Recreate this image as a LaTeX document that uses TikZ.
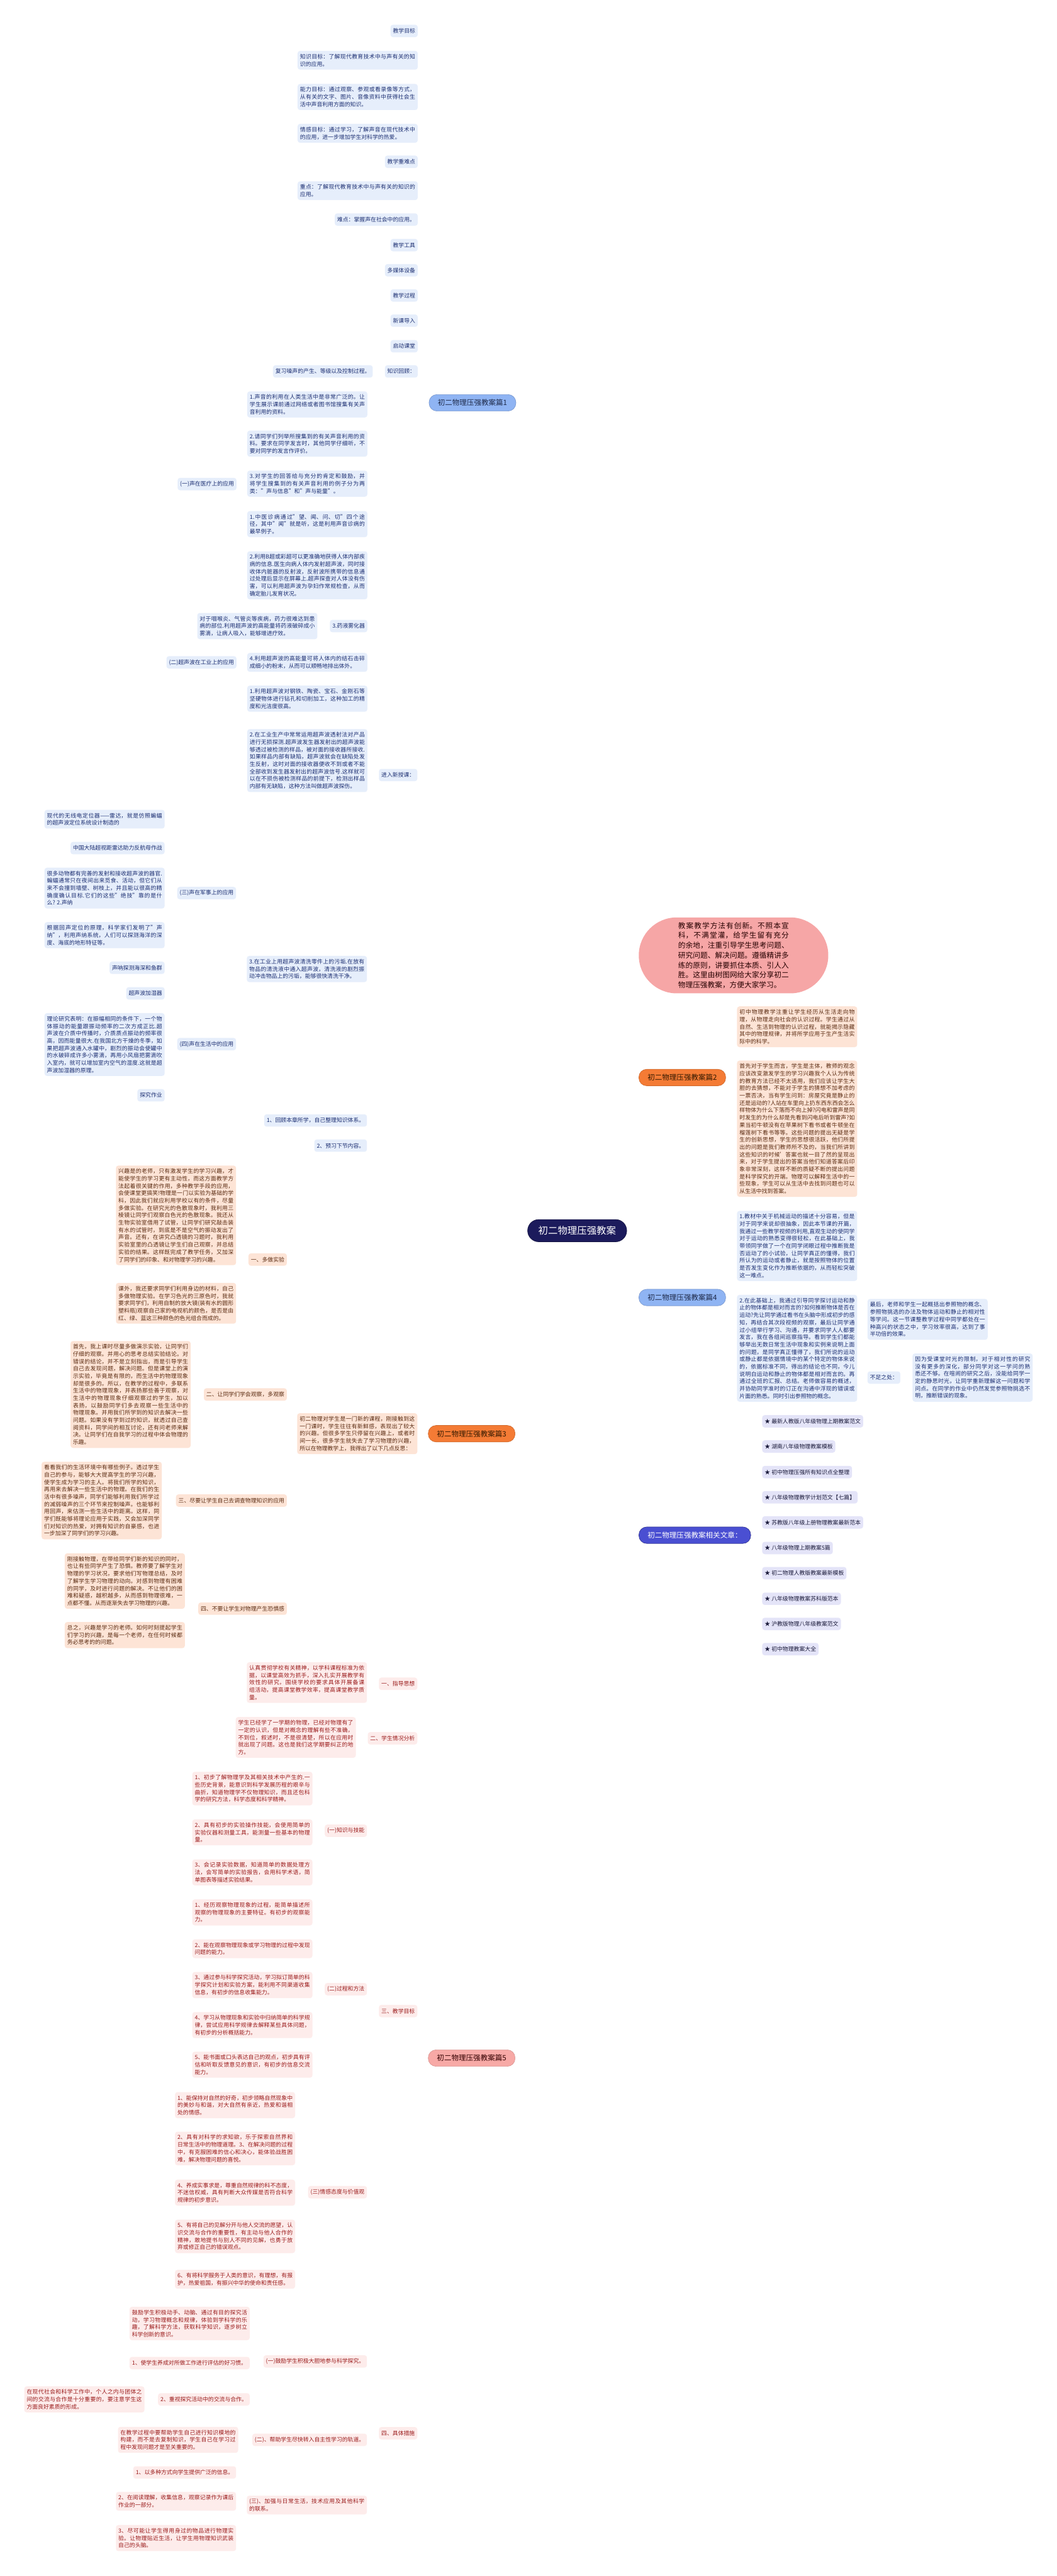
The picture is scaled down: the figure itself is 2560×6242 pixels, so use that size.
\documentclass[tikz,border=0pt]{standalone}
\usepackage{fontspec}
\setmainfont{Noto Sans CJK SC}
\XeTeXlinebreaklocale "zh"
\XeTeXlinebreakskip=0pt plus 1pt
\setlength{\parindent}{0pt}
\tolerance=9999
\emergencystretch=8pt
\definecolor{bleaf}{HTML}{E6EEFB}
\definecolor{btext}{HTML}{1C2F72}
\definecolor{bline}{HTML}{8DB3E8}
\definecolor{bnode}{HTML}{8FB4F3}
\definecolor{bnodetext}{HTML}{1E2A4A}
\definecolor{oleaf}{HTML}{FDE4D6}
\definecolor{otext}{HTML}{5B2C12}
\definecolor{oline}{HTML}{E9722E}
\definecolor{onode}{HTML}{F47B35}
\definecolor{pleaf}{HTML}{FDECEB}
\definecolor{ptext}{HTML}{9B1C1C}
\definecolor{pline}{HTML}{EEA5A1}
\definecolor{pnode}{HTML}{F7A9A6}
\definecolor{vleaf}{HTML}{E4E4F8}
\definecolor{vtext}{HTML}{1A1A3A}
\definecolor{vline}{HTML}{2C2D8A}
\definecolor{vnode}{HTML}{4A4FD2}
\definecolor{introfill}{HTML}{F6A6A6}
\definecolor{introline}{HTML}{F2A5A5}
\definecolor{centerfill}{HTML}{1C1B5C}
\newcommand\myleaf{\fontsize{13.5}{17.8}\selectfont}
\newcommand\mybr{\fontsize{17.6}{22}\selectfont}
\newcommand\myintro{\fontsize{17.8}{24}\selectfont}
\newcommand\mycen{\fontsize{23.5}{28}\selectfont}
\newcommand\myL[3]{\draw[#1] (#2.west) -- ++(-13,0) |- (#3.east);}
\newcommand\myR[3]{\draw[#1] (#2.east) -- ++(13,0) |- (#3.west);}
\pgfdeclarelayer{bg}
\pgfsetlayers{bg,main}
\tikzset{
  leaf/.style={rounded corners=6pt, inner xsep=6pt, inner ysep=7.5pt, minimum height=30pt, font=\myleaf},
  w/.style={text width=279pt, align=justify},
  lb/.style={leaf, fill=bleaf, text=btext},
  lo/.style={leaf, fill=oleaf, text=otext},
  lp/.style={leaf, fill=pleaf, text=ptext},
  lv/.style={leaf, fill=vleaf, text=vtext},
  br/.style={rounded corners=19pt, inner xsep=21pt, inner ysep=9pt, minimum height=40pt, font=\mybr, line width=1pt},
  cb/.style={draw=bline, line width=2pt, rounded corners=8pt},
  co/.style={draw=oline, line width=2pt, rounded corners=8pt},
  cp/.style={draw=pline, line width=2pt, rounded corners=8pt},
  cv/.style={draw=vline, line width=2pt, rounded corners=8pt},
  mline/.style={line width=2.4pt}
}
\begin{document}
\begin{tikzpicture}[x=1pt,y=-1pt]
\fill[white] (0,0) rectangle (2560,6242);
\useasboundingbox (0,0) rectangle (2560,6242);

% center
\node[fill=centerfill, draw=centerfill!70!black, line width=1pt, text=white, rounded corners=27pt, inner xsep=26pt, minimum height=54pt, font=\mycen] (main) at (1398,2982) {初二物理压强教案};

% intro
\node[fill=introfill, text=black!85!red, rounded corners=92pt, minimum width=459pt, minimum height=184pt, text width=268pt, align=justify, font=\myintro, anchor=west] (intro) at (1547,2315) {教案教学方法有创新。不照本宣科，不满堂灌，给学生留有充分的余地，注重引导学生思考问题、研究问题、解决问题。遵循精讲多练的原则，讲要抓住本质、引人入胜。这里由树图网给大家分享初二物理压强教案，方便大家学习。};

% branch nodes
\node[br, fill=bnode, draw=bnode!85!black, text=bnodetext, anchor=east] (b1) at (1250,976) {初二物理压强教案篇1};
\node[br, fill=onode, draw=onode!85!black, text=black!80!orange, anchor=west] (b2) at (1547,2611) {初二物理压强教案篇2};
\node[br, fill=onode, draw=onode!85!black, text=black!80!orange, anchor=east] (b3) at (1248,3474) {初二物理压强教案篇3};
\node[br, fill=bnode, draw=bnode!85!black, text=bnodetext, anchor=west] (b4) at (1547,3144) {初二物理压强教案篇4};
\node[br, fill=vnode, draw=vnode!70!black, text=white, anchor=west] (rel) at (1547,3720) {初二物理压强教案相关文章：};
\node[br, fill=pnode, draw=pnode!88!black, text=black!80!red, anchor=east] (b5) at (1248,4987) {初二物理压强教案篇5};

% ===== 篇1 =====
\node[lb, anchor=east] (a1) at (1012,75) {教学目标};
\node[lb, w, anchor=east] (a2) at (1012,146) {知识目标：了解现代教育技术中与声有关的知识的应用。};
\node[lb, w, anchor=east] (a3) at (1012,235) {能力目标：通过观察、参观或看录像等方式，从有关的文字、图片、音像资料中获得社会生活中声音利用方面的知识。};
\node[lb, w, anchor=east] (a4) at (1012,323) {情感目标：通过学习，了解声音在现代技术中的应用，进一步增加学生对科学的热爱。};
\node[lb, anchor=east] (a5) at (1012,392) {教学重难点};
\node[lb, w, anchor=east] (a6) at (1012,462) {重点：了解现代教育技术中与声有关的知识的应用。};
\node[lb, anchor=east] (a7) at (1012,532) {难点：掌握声在社会中的应用。};
\node[lb, anchor=east] (a8) at (1012,594) {教学工具};
\node[lb, anchor=east] (a9) at (1012,655) {多媒体设备};
\node[lb, anchor=east] (a10) at (1012,716) {教学过程};
\node[lb, anchor=east] (a11) at (1012,777) {新课导入};
\node[lb, anchor=east] (a12) at (1012,839) {启动课堂};
\node[lb, anchor=east] (a13) at (1012,900) {知识回顾：};
\node[lb, anchor=east] (a13a) at (903,900) {复习噪声的产生、等级以及控制过程。};
\node[lb, anchor=east] (a14) at (1011,1878) {进入新授课：};

\node[lb, w, anchor=east] (c1) at (890,980) {1.声音的利用在人类生活中是非常广泛的。让学生展示课前通过网络或者图书馆搜集有关声音利用的资料。};
\node[lb, w, anchor=east] (c2) at (890,1075) {2.请同学们列举所搜集到的有关声音利用的资料。要求在同学发言时，其他同学仔细听，不要对同学的发言作评价。};
\node[lb, w, anchor=east] (c3) at (890,1172) {3.对学生的回答给与充分的肯定和鼓励，并将学生搜集到的有关声音利用的例子分为两类："声与信息"和"声与能量"。};
\node[lb, anchor=east] (c3a) at (573,1173) {(一)声在医疗上的应用};
\node[lb, w, anchor=east] (c4) at (890,1270) {1.中医诊病通过"望、闻、问、切"四个途径，其中"闻"就是听，这是利用声音诊病的最早例子。};
\node[lb, w, anchor=east] (c5) at (890,1394) {2.利用B超或彩超可以更准确地获得人体内部疾病的信息.医生向病人体内发射超声波，同时接收体内脏器的反射波，反射波所携带的信息通过处理后显示在屏幕上.超声探查对人体没有伤害，可以利用超声波为孕妇作常规检查，从而确定胎儿发育状况。};
\node[lb, anchor=east] (c6) at (890,1517) {3.药液雾化器};
\node[lb, w, anchor=east] (c6a) at (769,1517) {对于咽喉炎、气管炎等疾病，药力很难达到患病的部位.利用超声波的高能量将药液破碎成小雾滴，让病人吸入，能够增进疗效。};
\node[lb, w, anchor=east] (c7) at (890,1605) {4.利用超声波的高能量可将人体内的结石击碎成细小的粉末，从而可以顺畅地排出体外。};
\node[lb, anchor=east] (c7a) at (573,1605) {(二)超声波在工业上的应用};
\node[lb, w, anchor=east] (c8) at (890,1693) {1.利用超声波对钢铁、陶瓷、宝石、金刚石等坚硬物体进行钻孔和切削加工，这种加工的精度和光洁度很高。};
\node[lb, w, anchor=east] (c9) at (890,1843) {2.在工业生产中常常运用超声波透射法对产品进行无损探测.超声波发生器发射出的超声波能够透过被检测的样品，被对面的接收器所接收.如果样品内部有缺陷，超声波就会在缺陷处发生反射，这时对面的接收器便收不到或者不能全部收到发生器发射出的超声波信号.这样就可以在不损伤被检测样品的前提下，检测出样品内部有无缺陷，这种方法叫做超声波探伤。};
\node[lb, w, anchor=east] (c10) at (889,2348) {3.在工业上用超声波清洗零件上的污垢.在放有物品的清洗液中通入超声波，清洗液的剧烈振动冲击物品上的污垢，能够很快清洗干净。};
\node[lb, anchor=east] (d1) at (572,2164) {(三)声在军事上的应用};
\node[lb, anchor=east] (d2) at (572,2530) {(四)声在生活中的应用};
\node[lb, w, anchor=east] (e1) at (399,1985) {现代的无线电定位器——雷达，就是仿照蝙蝠的超声波定位系统设计制造的};
\node[lb, anchor=east] (e2) at (399,2055) {中国大陆超视距雷达助力反航母作战};
\node[lb, w, anchor=east] (e3) at (399,2152) {很多动物都有完善的发射和接收超声波的器官.蝙蝠通常只在夜间出来觅食、活动，但它们从来不会撞到墙壁、树枝上，并且能以很高的精确度确认目标.它们的这些"绝技"靠的是什么? 2.声纳};
\node[lb, w, anchor=east] (e4) at (399,2266) {根据回声定位的原理，科学家们发明了"声纳"，利用声纳系统，人们可以探测海洋的深度、海底的地形特征等。};
\node[lb, anchor=east] (e5) at (399,2345) {声呐探测海深和鱼群};
\node[lb, anchor=east] (f1) at (399,2407) {超声波加湿器};
\node[lb, w, anchor=east] (f2) at (399,2531) {理论研究表明：在振幅相同的条件下，一个物体振动的能量跟振动频率的二次方成正比.超声波在介质中传播时，介质质点振动的频率很高，因而能量很大.在我国北方干燥的冬季，如果把超声波通入水罐中，剧烈的振动会使罐中的水破碎成许多小雾滴，再用小风扇把雾滴吹入室内，就可以增加室内空气的湿度.这就是超声波加湿器的原理。};
\node[lb, anchor=east] (f3) at (399,2654) {探究作业};
\node[lb, anchor=east] (c11) at (889,2715) {1、回顾本章所学，自己整理知识体系。};
\node[lb, anchor=east] (c12) at (889,2776) {2、预习下节内容。};

% ===== 篇2 =====
\node[lo, w, anchor=west] (g1) at (1785,2488) {初中物理教学注重让学生经历从生活走向物理，从物理走向社会的认识过程。学生通过从自然、生活到物理的认识过程，就能揭示隐藏其中的物理规律，并将所学应用于生产生活实际中的科学。};
\node[lo, w, anchor=west] (g2) at (1785,2735) {首先对于学生而言，学生是主体，教师的观念应该改变激发学生的学习兴趣我个人认为传统的教育方法已经不太适用，我们应该让学生大胆的去猜想，不能对于学生的猜想不加考虑的一票否决，当有学生问到：房屋究竟是静止的还是运动的?人站在车里向上扔东西东西会怎么样物体为什么下落而不向上掉?闪电和雷声是同时发生的为什么却是先看到闪电后听到雷声?如果当初牛顿没有在苹果树下看书或者牛顿坐在榴莲树下看书等等。这些问题的提出无疑是学生的创新思想，学生的思想很活跃，他们所提出的问题是我们教师所不及的，当我们所讲到这些知识的时候'答案也就一目了然的呈现出来，对于学生提出的答案当他们知道答案后印象非常深刻，这样不断的质疑不断的提出问题是科学探究的开端。物理可以解释生活中的一些现象，学生可以从生活中去找到问题也可以从生活中找到答案。};

% ===== 篇4 =====
\node[lb, w, anchor=west] (h1) at (1785,3019) {1.教材中关于机械运动的描述十分容易，但是对于同学来说却很抽象，因此本节课的开篇，我通过一些教学视频的利用,直观生动的使同学对于运动的熟悉变得很轻松，在此基础上，我带领同学做了一个在同学闭眼过程中推断我是否运动了的小试验，让同学真正的懂得，我们所认为的运动或者静止，就是按照物体的位置是否发生变化作为推断依据的，从而轻松突破这一难点。};
\node[lb, w, anchor=west] (h2) at (1785,3267) {2.在此基础上，我通过引导同学探讨运动和静止的物体都是相对而言的?如何推断物体是否在运动?先让同学通过看书在头脑中形成初步的感知，再结合其次段视频的观察，最后让同学通过小组举行学习、沟通，并要求同学人人都要发言，我在各组间巡察指导。看到学生们都能够举出无数日常生活中现象和实例来说明上面的问题，是同学真正懂得了，我们所说的运动或静止都是依据情境中的某个特定的物体来说的，依据标准不同，得出的结论也不同，今儿说明白运动和静止的物体都是相对而言的。再通过全班的汇报、总结。老师做容易的概述，并协助同学准时的订正在沟通中浮现的错误或片面的熟悉。同时引出参照物的概念。};
\node[lb, w, anchor=west] (h3) at (2101,3197) {最后，老师和学生一起概括出参照物的概念、参照物挑选的办法及物体运动和静止的相对性等学问。这一节课整教学过程中同学都处在一种高兴的状态之中，学习效率很高，达到了事半功倍的效果。};
\node[lb, anchor=west] (h4) at (2101,3338) {不足之处：};
\node[lb, w, anchor=west] (h5) at (2210,3338) {因为受课堂时光的限制，对于相对性的研究没有更多的深化，部分同学对这一学问的熟悉还不够。在喧闹的研究之后，没能给同学一定的静思时光，让同学重新理解这一问题和学问点。在同学的作业中仍然发觉参照物挑选不明，推断错误的现象。};

% ===== 相关文章 =====
\node[lv, anchor=west] (r1) at (1846,3444) {★ 最新人教版八年级物理上期教案范文};
\node[lv, anchor=west] (r2) at (1846,3505) {★ 湖南八年级物理教案模板};
\node[lv, anchor=west] (r3) at (1846,3567) {★ 初中物理压强所有知识点全整理};
\node[lv, anchor=west] (r4) at (1846,3628) {★ 八年级物理教学计划范文【七篇】};
\node[lv, anchor=west] (r5) at (1846,3689) {★ 苏教版八年级上册物理教案最新范本};
\node[lv, anchor=west] (r6) at (1846,3751) {★ 八年级物理上期教案5篇};
\node[lv, anchor=west] (r7) at (1846,3812) {★ 初二物理人教版教案最新模板};
\node[lv, anchor=west] (r8) at (1846,3874) {★ 八年级物理教案苏科版范本};
\node[lv, anchor=west] (r9) at (1846,3935) {★ 沪教版物理八年级教案范文};
\node[lv, anchor=west] (r10) at (1846,3996) {★ 初中物理教案大全};

% ===== 篇3 =====
\node[lo, w, anchor=east] (k0) at (1011,3474) {初二物理对学生是一门新的课程，刚接触到这一门课时，学生往往有新鲜感，表现出了较大的兴趣。但很多学生只停留在兴趣上，或者时间一长，很多学生就失去了学习物理的兴趣，所以在物理教学上，我得出了以下几点反思：};
\node[lo, anchor=east] (k1) at (695,3052) {一、多做实验};
\node[lo, w, anchor=east] (k1a) at (572,2945) {兴趣是的老师，只有激发学生的学习兴趣，才能使学生的学习更有主动性，而这方面教学方法起着很关键的作用，多种教学手段的应用，会使课堂更搞笑!物理是一门以实验为基础的学科，因此我们就应利用学校以有的条件，尽量多做实验。在研究光的色散现象时，我利用三棱镜让同学们观察白色光的色散现象。我还从生物实验室借用了试管，让同学们研究敲击装有水的试管时，到底是不是空气的振动发出了声音。还有，在讲究凸透镜的习题时，我利用实验室里的凸透镜让学生们自己观察，并总结实验的结果。这样既完成了教学任务，又加深了同学们的印象、和对物理学习的兴趣。};
\node[lo, w, anchor=east] (k1b) at (572,3158) {课外，我还要求同学们利用身边的材料，自己多做物理实验。在学习色光的三原色时，我就要求同学们，利用自制的放大镜(装有水的圆形塑料瓶)观察自己家的电视机的颜色，是否是由红、绿、蓝这三种颜色的色光组合而成的。};
\node[lo, anchor=east] (k2) at (695,3379) {二、让同学们学会观察，多观察};
\node[lo, w, anchor=east] (k2a) at (462,3379) {首先，我上课时尽量多做演示实验，让同学们仔细的观察。并用心的思考总结实验结论。对错误的结论，并不是立刻指出，而是引导学生自己去发现问题，解决问题。但是课堂上的演示实验，毕竟是有限的，而生活中的物理现象却是很多的。所以，在教学的过程中，多联系生活中的物理现象，并表扬那些善于观察，对生活中的物理现象仔细观察过的学生，加以表扬，以鼓励同学们多去观察一些生活中的物理现象。并用我们所学到的知识去解决一些问题。如果没有学到过的知识，就透过自己查阅资料，同学间的相互讨论，还有问老师来解决。让同学们在自我学习的过程中体会物理的乐趣。};
\node[lo, anchor=east] (k3) at (695,3636) {三、尽要让学生自己去调查物理知识的应用};
\node[lo, w, anchor=east] (k3a) at (392,3636) {看看我们的生活环境中有哪些例子。透过学生自己的参与，能够大大提高学生的学习兴趣，使学生成为学习的主人。将我们所学的知识，再用来去解决一些生活中的物理。在我们的生活中有很多噪声，同学们能够利用我们所学过的减弱噪声的三个环节来控制噪声。也能够利用回声，来估测一些生活中的距离。这样，同学们既能够将理论应用于实践，又会加深同学们对知识的热爱，对拥有知识的自豪感，也进一步加深了同学们的学习兴趣。};
\node[lo, anchor=east] (k4) at (695,3898) {四、不要让学生对物理产生恐惧感};
\node[lo, w, anchor=east] (k4a) at (448,3831) {刚接触物理，在带给同学们新的知识的同时，也让有些同学产生了恐惧。教师要了解学生对物理的学习状况，要求他们写物理总结，及时了解学生学习物理的动向。对感到物理有困难的同学，及时进行问题的解决。不让他们的困难和疑惑，越积越多，从而感到物理很难，一点都不懂。从而逐渐失去学习物理的兴趣。};
\node[lo, w, anchor=east] (k4b) at (448,3962) {总之，兴趣是学习的老师。如何时刻提起学生们学习的兴趣，是每一个老师，在任何时候都务必思考的的问题。};

% ===== 篇5 =====
\node[lp, anchor=east] (p1) at (1011,4080) {一、指导思想};
\node[lp, w, anchor=east] (p1a) at (889,4077) {认真贯彻学校有关精神，以学科课程标准为依据，以课堂高效为抓手，深入扎实开展教学有效性的研究，围绕学校的要求具体开展备课组活动，提高课堂教学效率，提高课堂教学质量。};
\node[lp, anchor=east] (p2) at (1011,4212) {二、学生情况分析};
\node[lp, w, anchor=east] (p2a) at (862,4210) {学生已经学了一学期的物理，已经对物理有了一定的认识，但是对概念的理解有些不准确，不到位，叙述时，不是很清楚，所以在应用时就出现了问题。这也是我们这学期要纠正的地方。};
\node[lp, anchor=east] (p3) at (1011,4873) {三、教学目标};
\node[lp, anchor=east] (q1) at (889,4436) {(一)知识与技能};
\node[lp, w, anchor=east] (q1a) at (757,4334) {1、初步了解物理学及其相关技术中产生的.一些历史背景，能意识到科学发展历程的艰辛与曲折，知道物理学不仅物理知识，而且还包科学的研究方法，科学态度和科学精神。};
\node[lp, w, anchor=east] (q1b) at (757,4440) {2、具有初步的实验操作技能，会使用简单的实验仪器和测量工具，能测量一些基本的物理量。};
\node[lp, w, anchor=east] (q1c) at (757,4537) {3、会记录实验数据，知道简单的数据处理方法，会写简单的实验报告，会用科学术语，简单图表等描述实验结果。};
\node[lp, anchor=east] (q2) at (889,4820) {(二)过程和方法};
\node[lp, w, anchor=east] (q2a) at (757,4634) {1、经历观察物理现象的过程，能简单描述所观察的物理现象的主要特征。有初步的观察能力。};
\node[lp, w, anchor=east] (q2b) at (757,4722) {2、能在观察物理现象或学习物理的过程中发现问题的能力。};
\node[lp, w, anchor=east] (q2c) at (757,4810) {3、通过参与科学探究活动，学习拟订简单的科学探究计划和实验方案，能利用不同渠道收集信息，有初步的信息收集能力。};
\node[lp, w, anchor=east] (q2d) at (757,4907) {4、学习从物理现象和实验中归纳简单的科学规律，尝试应用科学规律去解释某些具体问题，有初步的分析概括能力。};
\node[lp, w, anchor=east] (q2e) at (757,5003) {5、能书面或口头表达自己的观点，初步具有评估和听取反馈意见的意识，有初步的信息交流能力。};
\node[lp, anchor=east] (q3) at (889,5312) {(三)情感态度与价值观};
\node[lp, w, anchor=east] (q3a) at (715,5101) {1、能保持对自然的好奇，初步领略自然现象中的美妙与和谐，对大自然有亲近，热爱和谐相处的情感。};
\node[lp, w, anchor=east] (q3b) at (715,5206) {2、具有对科学的求知欲，乐于探索自然界和日常生活中的物理道理。3、在解决问题的过程中，有克服困难的信心和决心，能体验战胜困难，解决物理问题的喜悦。};
\node[lp, w, anchor=east] (q3c) at (715,5313) {4、养成实事求是，尊重自然规律的科不态度，不迷信权威，具有判断大众传媒是否符合科学规律的初步意识。};
\node[lp, w, anchor=east] (q3d) at (715,5419) {5、有将自己的见解分开与他人交流的愿望，认识交流与合作的重要性，有主动与他人合作的精神，敢地提书与别人不同的见解，也勇于放弃或修正自己的错误观点。};
\node[lp, w, anchor=east] (q3e) at (715,5523) {6、有将科学服务于人类的意识，有理想，有报护，热爱祖国，有振兴中华的使命和责任感。};
\node[lp, anchor=east] (p4) at (1011,5896) {四、具体措施};
\node[lp, anchor=east] (s1) at (889,5722) {(一)鼓励学生积极大胆地参与科学探究。};
\node[lp, w, anchor=east] (s1a) at (605,5630) {鼓励学生积极动手、动脑、通过有目的探究活动，学习物理概念和规律，体验到学科学的乐趣，了解科学方法，获取科学知识，逐步树立科学创新的意识。};
\node[lp, w, anchor=east] (s1b) at (605,5726) {1、使学生养成对所做工作进行评估的好习惯。};
\node[lp, anchor=east] (s1c) at (605,5814) {2、重视探究活动中的交流与合作。};
\node[lp, w, anchor=east] (s1d) at (350,5814) {在现代社会和科学工作中，个人之内与团体之间的交流与合作是十分重要的，要注意学生这方面良好素质的形成。};
\node[lp, anchor=east] (s2) at (889,5912) {(二)、帮助学生尽快转入自主性学习的轨道。};
\node[lp, w, anchor=east] (s2a) at (577,5912) {在教学过程中要帮助学生自己进行知识模地的构建，而不是去复制知识，学生自己在学习过程中发现问题才是至关重要的。};
\node[lp, w, anchor=east] (s3) at (889,6070) {(三)、加强与日常生活，技术应用及其他科学的联系。};
\node[lp, anchor=east] (s3a) at (572,5991) {1、以多种方式向学生提供广泛的信息。};
\node[lp, w, anchor=east] (s3b) at (572,6061) {2、在阅读理解，收集信息，观察记录作为课后作业的一部分。};
\node[lp, w, anchor=east] (s3c) at (572,6150) {3、尽可能让学生得用身过的物品进行物理实验。让物理贴近生活，让学生用物理知识武装自己的头脑。};

\begin{pgfonlayer}{bg}
% main connectors
\draw[mline, draw=bline] (main.center) -- (1398,1700) .. controls (1398,1150) and (1360,976) .. (b1.east);
\draw[mline, draw=introline] (main.center) -- (1398,2750) .. controls (1398,2420) and (1430,2315) .. (intro.west);
\draw[mline, draw=oline] (main.center) -- (1398,2860) .. controls (1398,2680) and (1440,2611) .. (b2.west);
\draw[mline, draw=bline] (main.center) -- (1398,3040) .. controls (1398,3110) and (1450,3144) .. (b4.west);
\draw[mline, draw=vline] (main.center) -- (1398,3420) .. controls (1398,3650) and (1450,3720) .. (rel.west);
\draw[mline, draw=oline] (main.center) -- (1398,3150) .. controls (1398,3400) and (1330,3474) .. (b3.east);
\draw[mline, draw=pline] (main.center) -- (1398,3500) .. controls (1392,4700) and (1350,4987) .. (b5.east);
% 篇1
\foreach \n in {a1,a2,a3,a4,a5,a6,a7,a8,a9,a10,a11,a12,a13,a14} {\myL{cb}{b1}{\n}}
\myL{cb}{a13}{a13a}
\foreach \n in {c1,c2,c3,c4,c5,c6,c7,c8,c9,c10,c11,c12} {\myL{cb}{a14}{\n}}
\myL{cb}{c3}{c3a}
\myL{cb}{c6}{c6a}
\myL{cb}{c7}{c7a}
\myL{cb}{c10}{d1}
\myL{cb}{c10}{d2}
\foreach \n in {e1,e2,e3,e4,e5} {\myL{cb}{d1}{\n}}
\foreach \n in {f1,f2,f3} {\myL{cb}{d2}{\n}}
% 篇2
\myR{co}{b2}{g1}
\myR{co}{b2}{g2}
% 篇4
\myR{cb}{b4}{h1}
\myR{cb}{b4}{h2}
\myR{cb}{h2}{h3}
\myR{cb}{h2}{h4}
\myR{cb}{h4}{h5}
% related
\foreach \n in {r1,r2,r3,r4,r5,r6,r7,r8,r9,r10} {\myR{cv}{rel}{\n}}
% 篇3
\myL{co}{b3}{k0}
\foreach \n in {k1,k2,k3,k4} {\myL{co}{k0}{\n}}
\myL{co}{k1}{k1a}
\myL{co}{k1}{k1b}
\myL{co}{k2}{k2a}
\myL{co}{k3}{k3a}
\myL{co}{k4}{k4a}
\myL{co}{k4}{k4b}
% 篇5
\foreach \n in {p1,p2,p3,p4} {\myL{cp}{b5}{\n}}
\myL{cp}{p1}{p1a}
\myL{cp}{p2}{p2a}
\foreach \n in {q1,q2,q3} {\myL{cp}{p3}{\n}}
\foreach \n in {q1a,q1b,q1c} {\myL{cp}{q1}{\n}}
\foreach \n in {q2a,q2b,q2c,q2d,q2e} {\myL{cp}{q2}{\n}}
\foreach \n in {q3a,q3b,q3c,q3d,q3e} {\myL{cp}{q3}{\n}}
\foreach \n in {s1,s2,s3} {\myL{cp}{p4}{\n}}
\foreach \n in {s1a,s1b,s1c} {\myL{cp}{s1}{\n}}
\myL{cp}{s1c}{s1d}
\myL{cp}{s2}{s2a}
\foreach \n in {s3a,s3b,s3c} {\myL{cp}{s3}{\n}}
\end{pgfonlayer}
\end{tikzpicture}
\end{document}
